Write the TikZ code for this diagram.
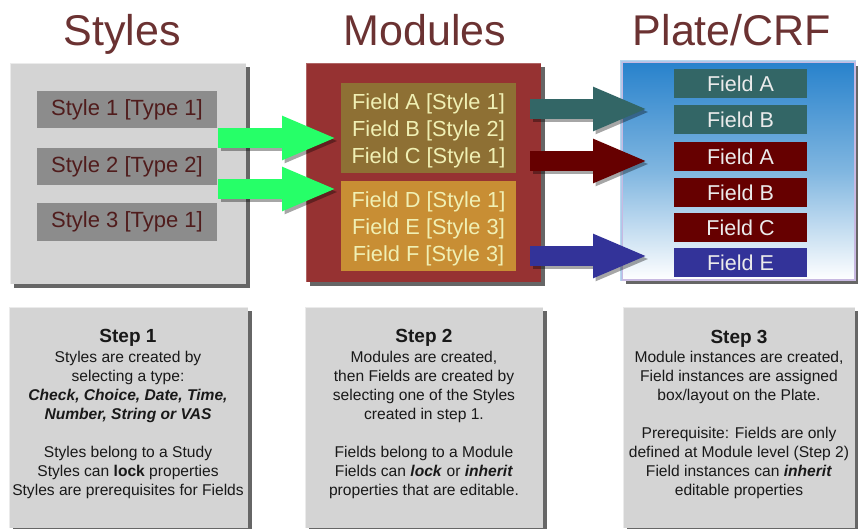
\documentclass[tikz,border=0pt]{standalone}
\usepackage{fontspec}
\setmainfont{Liberation Sans}
\usetikzlibrary{shadows,arrows.meta}
\definecolor{titlec}{RGB}{107,50,50}
\definecolor{panelgray}{RGB}{212,212,212}
\definecolor{stylebox}{RGB}{140,140,140}
\definecolor{styletext}{RGB}{80,28,28}
\definecolor{modred}{RGB}{150,50,50}
\definecolor{modupper}{RGB}{142,112,52}
\definecolor{modlower}{RGB}{200,142,52}
\definecolor{modtext}{RGB}{240,240,180}
\definecolor{arrgreen}{RGB}{38,255,104}
\definecolor{teal}{RGB}{51,102,102}
\definecolor{darkred}{RGB}{102,0,0}
\definecolor{darkblue}{RGB}{51,51,153}
\definecolor{platetop}{RGB}{40,130,204}
\definecolor{platemid}{RGB}{128,182,224}
\definecolor{plateedge}{RGB}{200,185,225}
\definecolor{bodytext}{RGB}{25,25,25}
\begin{document}
\begin{tikzpicture}[x=1pt,y=-1pt,
  panel/.style={draw=none, inner sep=0pt,
    drop shadow={shadow xshift=4pt, shadow yshift=-4pt, fill=black, opacity=0.6}},
  bevel/.style={draw=white, opacity=0.55, line width=2pt},
  title/.style={text=titlec, font=\fontsize{43}{50}\selectfont, anchor=base},
  stylebx/.style={fill=stylebox, minimum width=180, minimum height=37, inner sep=0pt,
    text=styletext, font=\fontsize{22}{26}\selectfont},
  modbx/.style={minimum width=175, minimum height=90, inner sep=0pt},
  modtxt/.style={align=center, inner sep=0pt, text=modtext, font=\fontsize{21.8}{27}\selectfont},
  fieldbx/.style={minimum width=133, minimum height=29, inner sep=0pt,
    text=white!92!black, font=\fontsize{21.5}{26}\selectfont},
  steptitle/.style={font=\bfseries\fontsize{19}{22}\selectfont, text=bodytext, anchor=base},
  stepbody/.style={font=\fontsize{15.6}{19}\selectfont, text=bodytext, align=center,
    anchor=north, inner sep=0pt},
  barrow/.style={line width=20pt, line cap=butt,
    -{Triangle[length=55pt,width=40pt]}},
  barrowshadow/.style={line width=20pt, line cap=butt, black, opacity=0.35,
    transform canvas={shift={(2.5pt,-3pt)}},
    -{Triangle[length=55pt,width=40pt]}}
]
\useasboundingbox (0,0) rectangle (858,529);

% titles
\node[title] (t1) at (122,46) {Styles};
\node[title] (t2) at (425,46) {Modules};
\node[title] (t3) at (732,46) {Plate/CRF};

% panels
\node[panel, fill=panelgray, minimum width=236, minimum height=221] (pstyles) at (128,173.5) {};
\draw[bevel] (pstyles.south west) -- (pstyles.north west) -- (pstyles.north east);
\node[panel, fill=modred, minimum width=235, minimum height=219] (pmods) at (423.5,172.5) {};
\draw[bevel, opacity=0.25] (pmods.south west) -- (pmods.north west) -- (pmods.north east);
\node[panel, top color=platetop, bottom color=white, middle color=platemid,
      minimum width=233, minimum height=218, draw=plateedge, line width=1.5pt] (pplate) at (738.5,171) {};
\draw[bevel, draw=white!60!platetop, opacity=0.8] (pplate.south west) -- (pplate.north west) -- (pplate.north east);

% style boxes
\node[stylebx] (s1) at (127,109.5) {Style 1 [Type 1]};
\node[stylebx] (s2) at (127,167) {Style 2 [Type 2]};
\node[stylebx] (s3) at (127,222) {Style 3 [Type 1]};

% module boxes
\node[modbx, fill=modupper] (mu) at (428.5,128) {};
\node[modbx, fill=modlower] (ml) at (428.5,226) {};
\node[modtxt] (mut) at ([yshift=-2.5pt]mu.center) {Field A [Style 1]\\Field B [Style 2]\\Field C [Style 1]};
\node[modtxt] (mlt) at ([yshift=-2.5pt]ml.center) {Field D [Style 1]\\Field E [Style 3]\\Field F [Style 3]};

% plate fields
\node[fieldbx, fill=teal] (f1) at (740.5,83.5) {Field A};
\node[fieldbx, fill=teal] (f2) at (740.5,119.5) {Field B};
\node[fieldbx, fill=darkred] (f3) at (740.5,156.5) {Field A};
\node[fieldbx, fill=darkred] (f4) at (740.5,192.5) {Field B};
\node[fieldbx, fill=darkred] (f5) at (740.5,227.5) {Field C};
\node[fieldbx, fill=darkblue] (f6) at (740.5,262.5) {Field E};

% arrow end points
\coordinate (g1s) at (218,138);
\coordinate (g1t) at (337,138);
\coordinate (g2s) at (218,189);
\coordinate (g2t) at (337,189);
\coordinate (a1s) at (530,109);
\coordinate (a1t) at (648,109);
\coordinate (a2s) at (530,161);
\coordinate (a2t) at (648,161);
\coordinate (a3s) at (530,256);
\coordinate (a3t) at (648,256);

\foreach \s/\t in {g1s/g1t,g2s/g2t,a1s/a1t,a2s/a2t,a3s/a3t}
  \draw[barrowshadow] (\s) -- (\t);
\draw[barrow, arrgreen] (g1s) -- (g1t);
\draw[barrow, arrgreen] (g2s) -- (g2t);
\draw[barrow, teal] (a1s) -- (a1t);
\draw[barrow, darkred] (a2s) -- (a2t);
\draw[barrow, darkblue] (a3s) -- (a3t);

% bottom panels
\node[panel, fill=panelgray, minimum width=239, minimum height=221] (b1) at (128.5,417.5) {};
\node[panel, fill=panelgray, minimum width=238, minimum height=221] (b2) at (424,417.5) {};
\node[panel, fill=panelgray, minimum width=232, minimum height=221] (b3) at (739,417.5) {};
\foreach \b in {b1,b2,b3}
  \draw[bevel] (\b.south west) -- (\b.north west) -- (\b.north east);

\node[steptitle] (st1) at (128,342) {Step 1};
\node[stepbody] (sb1) at (128,351) {Styles are created by\\selecting a type:\\
  \textbf{\textit{Check, Choice, Date, Time,}}\\\textbf{\textit{Number, String or VAS}}\\[19pt]
  Styles belong to a Study\\Styles can \textbf{lock} properties\\Styles are prerequisites for Fields};

\node[steptitle] (st2) at (424,342) {Step 2};
\node[stepbody] (sb2) at (424,351) {Modules are created,\\then Fields are created by\\
  selecting one of the Styles\\created in step 1.\\[19pt]
  Fields belong to a Module\\Fields can \textbf{\textit{lock}} or \textbf{\textit{inherit}}\\properties that are editable.};

\node[steptitle] (st3) at (739,343) {Step 3};
\node[stepbody] (sb3) at (739,351) {Module instances are created,\\Field instances are assigned\\
  box/layout on the Plate.\\[19pt]
  Prerequisite: Fields are only\\defined at Module level (Step 2)\\
  Field instances can \textbf{\textit{inherit}}\\editable properties};
\end{tikzpicture}
\end{document}
